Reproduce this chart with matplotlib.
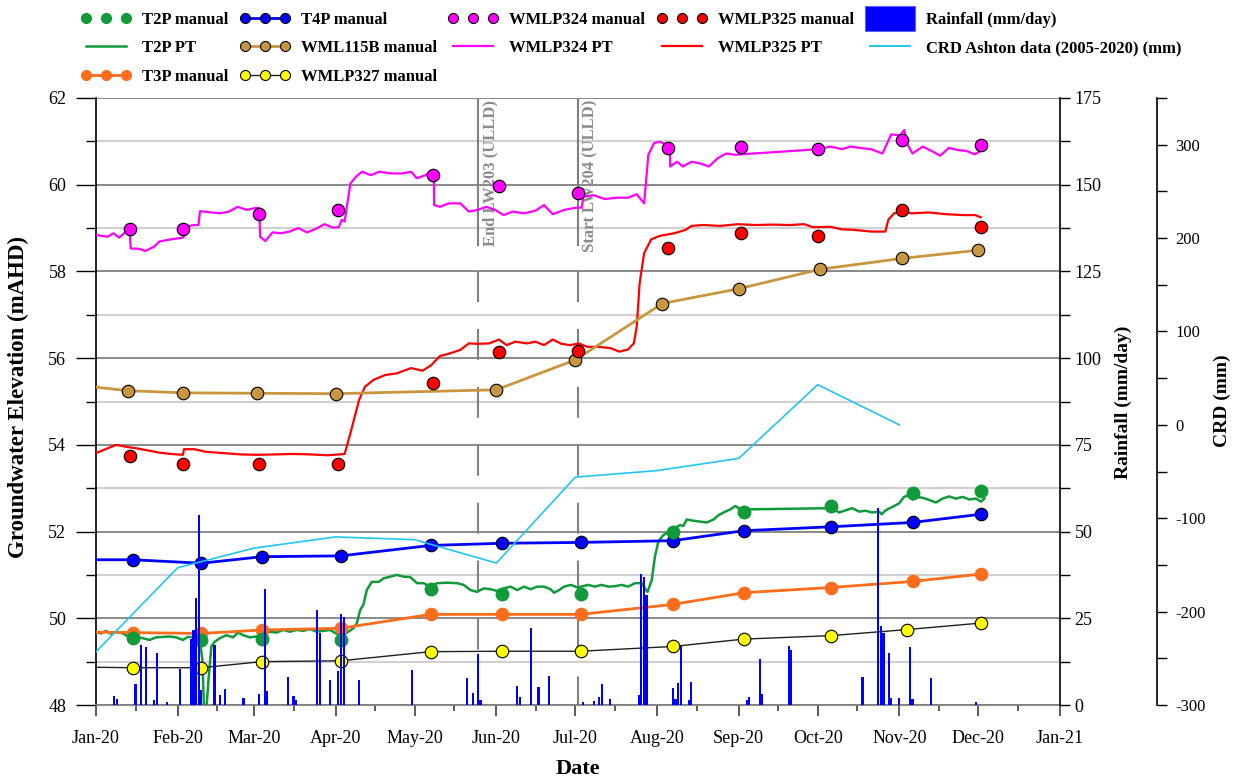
import numpy as np
import matplotlib
matplotlib.use("Agg")
import matplotlib.pyplot as plt
import matplotlib.dates as mdates
from matplotlib.ticker import MultipleLocator
from matplotlib.lines import Line2D
from matplotlib.patches import Patch, Rectangle
from matplotlib.legend_handler import HandlerPatch
from matplotlib import font_manager as fm

# ---------------------------------------------------------------- data
# Manual dip readings (mAHD)
grp_a_dates = ['2020-01-15', '2020-02-10', '2020-03-04', '2020-04-03', '2020-05-07', '2020-06-03',
               '2020-07-03', '2020-08-07', '2020-09-03', '2020-10-06', '2020-11-06', '2020-12-02']
grp_b_dates = ['2020-01-14', '2020-02-03', '2020-03-03', '2020-04-02', '2020-05-08', '2020-06-02',
               '2020-07-02', '2020-08-05', '2020-09-02', '2020-10-01', '2020-11-02', '2020-12-02']
wml115b_dates = ['2020-01-13', '2020-02-03', '2020-03-02', '2020-04-01', '2020-06-01', '2020-07-01',
                 '2020-08-03', '2020-09-01', '2020-10-02', '2020-11-02', '2020-12-01']
wmlp327_dates = ['2020-01-15', '2020-02-10', '2020-03-04', '2020-04-03', '2020-05-07', '2020-06-03',
                 '2020-07-03', '2020-08-07', '2020-09-03', '2020-10-06', '2020-11-04', '2020-12-02']
series_start = '2020-01-01'

t2p_manual = [49.54, 49.49, 49.52, 49.50, 50.68, 50.55, 50.56, 52.00, 52.45, 52.60, 52.88, 52.94]
t4p_manual = [51.35, 51.27, 51.42, 51.44, 51.68, 51.73, 51.75, 51.79, 52.02, 52.11, 52.21, 52.40]
t4p_start = 51.35
t3p_manual = [49.67, 49.65, 49.73, 49.77, 50.09, 50.09, 50.09, 50.32, 50.59, 50.71, 50.85, 51.02]
t3p_start = 49.68
wmlp327_manual = [48.86, 48.86, 49.00, 49.02, 49.23, 49.24, 49.24, 49.35, 49.52, 49.60, 49.74, 49.89]
wmlp327_start = 48.87
wml115b_manual = [55.25, 55.20, 55.19, 55.18, 55.27, 55.96, 57.26, 57.60, 58.05, 58.30, 58.49]
wml115b_start = 55.33
wmlp324_manual = [58.99, 58.99, 59.33, 59.42, 60.22, 59.96, 59.82, 60.85, 60.87, 60.82, 61.02, 60.92]
wmlp325_manual = [53.74, 53.55, 53.55, 53.55, 55.42, 56.14, 56.17, 58.53, 58.88, 58.82, 59.42, 59.03]

# Pressure transducer (PT) records: day of year (0 = 1 Jan 2020) and level (mAHD)
wmlp324_pt_day = [0, 4.4, 6.6, 8.8, 11.0, 12.8, 13.2, 16.5, 18.7, 22.0,
                  24.1, 27.4, 30.7, 33.2, 33.4, 37.3, 38.9, 39.5, 43.9, 47.2,
                  50.5, 53.8, 57.1, 60.4, 62.0, 62.3, 64.3, 67.0, 70.3, 73.5,
                  76.8, 80.1, 83.4, 86.7, 90.0, 92.2, 93.3, 94.4, 95.5, 96.6,
                  98.8, 101.0, 104.3, 107.6, 112.0, 116.4, 119.6, 121.8, 125.1, 127.3,
                  128.2, 128.4, 130.6, 133.9, 138.3, 141.6, 144.9, 148.2, 151.5, 154.8,
                  158.1, 162.5, 166.8, 170.1, 173.4, 177.8, 182.2, 184.4, 185.0, 188.8,
                  193.2, 197.6, 202.0, 205.3, 208.1, 209.7, 211.9, 214.0, 216.9, 217.8,
                  218.0, 220.6, 222.8, 226.1, 229.4, 232.7, 236.0, 239.3, 242.6, 244.8,
                  274.4, 278.8, 283.2, 286.5, 289.8, 294.2, 298.6, 301.9, 305.2, 306.9,
                  307.8, 310.0, 313.9, 317.2, 320.5, 323.8, 327.1, 330.4, 333.7, 335.9]
wmlp324_pt = [58.84, 58.80, 58.88, 58.78, 58.90, 58.90, 58.53, 58.52, 58.47, 58.57,
              58.69, 58.73, 58.76, 58.78, 59.03, 59.07, 59.07, 59.39, 59.36, 59.34,
              59.38, 59.49, 59.42, 59.46, 59.46, 58.80, 58.70, 58.90, 58.88, 58.92,
              59.00, 58.90, 58.98, 59.09, 59.01, 59.02, 59.19, 59.15, 59.60, 60.03,
              60.19, 60.30, 60.22, 60.30, 60.26, 60.26, 60.30, 60.15, 60.22, 60.31,
              60.31, 59.53, 59.49, 59.57, 59.57, 59.38, 59.42, 59.49, 59.42, 59.30,
              59.38, 59.34, 59.40, 59.53, 59.32, 59.42, 59.47, 59.47, 59.72, 59.76,
              59.67, 59.70, 59.70, 59.78, 59.57, 60.69, 60.96, 60.99, 60.92, 60.92,
              60.42, 60.53, 60.42, 60.53, 60.49, 60.42, 60.61, 60.72, 60.69, 60.70,
              60.82, 60.88, 60.82, 60.88, 60.85, 60.82, 60.72, 61.16, 61.14, 61.26,
              60.96, 60.72, 60.88, 60.78, 60.67, 60.85, 60.80, 60.78, 60.70, 60.78]

wmlp325_pt_day = [0, 4.4, 7.7, 11.0, 15.4, 19.8, 24.1, 28.5, 33.0, 33.4,
                  37.3, 41.7, 48.3, 54.9, 61.5, 68.1, 74.6, 81.2, 87.8, 94.4,
                  96.6, 99.9, 102.1, 105.4, 109.8, 114.2, 119.6, 124.0, 127.3, 130.6,
                  133.9, 138.3, 141.6, 144.9, 149.3, 153.0, 155.9, 159.2, 163.6, 166.8,
                  170.1, 173.4, 176.7, 180.0, 183.3, 186.6, 191.0, 195.4, 198.7, 202.0,
                  204.2, 205.3, 206.4, 208.1, 210.8, 214.0, 219.5, 223.9, 226.1, 230.5,
                  237.1, 243.7, 250.3, 256.9, 263.4, 268.9, 272.2, 278.8, 283.2, 287.6,
                  294.2, 299.7, 300.8, 303.0, 306.3, 309.6, 316.1, 322.7, 329.3, 333.7, 335.9]
wmlp325_pt = [53.81, 53.92, 54.00, 53.96, 53.92, 53.87, 53.82, 53.79, 53.77, 53.90,
              53.90, 53.84, 53.81, 53.78, 53.77, 53.78, 53.79, 53.78, 53.76, 53.79,
              54.27, 55.04, 55.34, 55.50, 55.61, 55.65, 55.77, 55.71, 55.84, 56.05,
              56.10, 56.19, 56.34, 56.33, 56.34, 56.43, 56.30, 56.38, 56.34, 56.38,
              56.30, 56.43, 56.33, 56.30, 56.34, 56.26, 56.26, 56.23, 56.15, 56.20,
              56.34, 56.73, 57.73, 58.42, 58.74, 58.82, 58.88, 58.96, 59.05, 59.07,
              59.05, 59.09, 59.07, 59.08, 59.07, 59.09, 59.02, 59.03, 58.97, 58.96,
              58.92, 58.92, 59.19, 59.34, 59.38, 59.34, 59.36, 59.32, 59.30, 59.30, 59.25]

t2p_pt_day = [0, 1.9, 3.8, 5.7, 7.6, 10.2, 12.7, 15.2, 17.8, 20.3,
              22.8, 25.4, 27.9, 30.5, 33.0, 34.9, 37.4, 39.4, 40.4, 41.0,
              41.9, 42.8, 43.8, 45.1, 47.0, 49.5, 52.0, 53.9, 55.9, 58.4,
              60.9, 63.5, 66.0, 68.5, 71.1, 73.6, 76.2, 78.7, 81.2, 83.8,
              86.3, 88.9, 91.4, 93.9, 95.8, 97.7, 99.0, 100.3, 101.5, 102.8,
              104.7, 107.3, 109.2, 111.7, 114.2, 116.8, 119.3, 121.9, 124.4, 126.9,
              129.5, 133.3, 137.1, 139.6, 142.2, 144.7, 147.2, 149.8, 152.3, 154.9,
              157.4, 159.9, 162.5, 165.0, 167.6, 170.1, 172.6, 173.9, 175.8, 177.7,
              180.3, 182.8,
              186.9, 189.4, 191.9, 194.5, 197.0, 199.5, 202.1, 204.6, 207.2, 208.4,
              209.4, 211.0, 212.2, 213.5, 215.4, 217.3, 219.8, 221.7, 223.0, 224.3,
              226.8, 229.4, 231.9, 234.5, 236.4, 238.9, 240.8, 242.7, 244.0, 245.2,
              279.5, 282.1, 284.6, 287.1, 289.7, 292.2, 294.7, 297.3, 298.3, 299.8,
              302.4, 304.9, 306.8, 308.7, 310.0, 311.2, 313.8, 316.3, 318.9, 321.4,
              323.9, 326.5, 329.0, 331.6, 334.1, 336.0, 337.3]
t2p_pt = [49.69, 49.65, 49.71, 49.64, 49.69, 49.65, 49.56, 49.57, 49.54, 49.50,
          49.56, 49.57, 49.58, 49.56, 49.50, 49.57, 49.56, 49.50, 49.04, 47.90,
          47.90, 48.65, 49.35, 49.46, 49.54, 49.61, 49.56, 49.67, 49.61, 49.56,
          49.58, 49.61, 49.69, 49.67, 49.73, 49.69, 49.73, 49.71, 49.75, 49.69,
          49.71, 49.73, 49.64, 49.61, 49.69, 49.77, 49.88, 50.19, 50.31, 50.65,
          50.84, 50.84, 50.92, 50.96, 51.00, 50.96, 50.95, 50.81, 50.81, 50.73,
          50.81, 50.82, 50.81, 50.77, 50.65, 50.61, 50.69, 50.67, 50.63, 50.69,
          50.73, 50.65, 50.73, 50.67, 50.73, 50.73, 50.67, 50.59, 50.65, 50.73,
          50.77, 50.71,
          50.77, 50.73, 50.77, 50.73, 50.74, 50.77, 50.73, 50.81, 50.81, 50.69,
          50.61, 50.88, 51.42, 51.77, 51.92, 51.98, 52.08, 52.15, 52.13, 52.28,
          52.25, 52.23, 52.21, 52.28, 52.38, 52.46, 52.51, 52.59, 52.54, 52.51,
          52.54, 52.44, 52.49, 52.54, 52.46, 52.48, 52.44, 52.46, 52.40, 52.49,
          52.57, 52.65, 52.80, 52.84, 52.74, 52.80, 52.78, 52.73, 52.67, 52.76,
          52.81, 52.76, 52.80, 52.74, 52.76, 52.69, 52.76]

# Daily rainfall (mm/day), day of year
rain_day = [7, 8, 15, 17, 19, 22, 23, 27, 32, 36,
            37, 38, 39, 40, 45, 47, 49, 56, 62, 64,
            65, 73, 75, 76, 84, 85, 89, 92, 93, 94,
            100, 120, 141, 143, 145, 146, 160, 161, 165, 168,
            172, 185, 189, 191, 192, 195, 206, 207, 208, 209,
            219, 220, 221, 222, 225, 226, 247, 248, 252, 253,
            263, 264, 291, 297, 298, 299, 301, 302, 305, 309,
            310, 317, 334]
rain_mm = [2.6, 1.8, 6.0, 17.3, 16.7, 1.4, 15.0, 0.8, 10.3, 18.9,
           21.6, 30.9, 54.8, 4.3, 17.3, 2.9, 4.5, 1.9, 3.2, 33.4,
           4.1, 8.1, 2.6, 1.4, 27.4, 20.8, 7.3, 9.9, 26.1, 25.5,
           7.3, 10.1, 7.9, 3.4, 14.7, 1.4, 5.5, 2.4, 22.3, 5.1,
           8.4, 1.0, 1.2, 2.3, 6.0, 1.7, 2.9, 37.8, 37.0, 31.7,
           4.9, 1.7, 6.4, 17.1, 1.4, 6.6, 1.3, 2.3, 13.3, 3.1,
           17.0, 15.9, 8.1, 56.7, 22.8, 20.8, 14.9, 2.1, 2.1, 16.8,
           1.7, 7.9, 0.8]

# Cumulative rainfall departure, Ashton (mm)
crd_dates = ['2020-01-01', '2020-02-01', '2020-03-01', '2020-04-01', '2020-05-01', '2020-06-01',
             '2020-07-01', '2020-08-01', '2020-09-01', '2020-10-01', '2020-11-01']
crd_mm = [-243, -153, -132, -120, -123, -148, -56, -49, -36, 43, 0]

# Mining events
event_dates = ['2020-05-25', '2020-07-02']
event_labels = ['End LW203 (ULLD)', 'Start LW204 (ULLD)']

# ---------------------------------------------------------------- helpers
BASE = mdates.date2num(np.datetime64('2020-01-01'))


def from_days(days):
    return BASE + np.asarray(days, dtype=float)


def from_dates(dates):
    return mdates.date2num(np.array(dates, dtype='datetime64[D]'))


def with_start(dates, values, start_value):
    return (np.concatenate([from_dates([series_start]), from_dates(dates)]),
            np.concatenate([[start_value], values]))


plt.rcParams['font.family'] = ['Liberation Serif', 'DejaVu Serif']
plt.rcParams['lines.scale_dashes'] = False
plt.rcParams['axes.unicode_minus'] = False

_font_names = {f.name for f in fm.fontManager.ttflist}
if 'Liberation Sans Narrow' in _font_names:
    LEG_SIZE = 13.0
    LEG_PROP = fm.FontProperties(family='Liberation Sans Narrow', weight='bold', size=LEG_SIZE)
else:
    LEG_SIZE = 12.0
    LEG_PROP = fm.FontProperties(family='Liberation Serif', weight='bold', size=LEG_SIZE)

GREEN = '#109A3A'
BLUE = '#0000FF'
ORANGE = '#FF6D1A'
TAN = '#C8963E'
MAGENTA = '#FF00FF'
RED = '#FF0000'
YELLOW = '#FFFF00'
CYAN = '#22C5F2'
GRID_DARK = '#808080'
GRID_LIGHT = '#D0D0D0'
EVENT_GREY = '#8A8A8A'

MS = 9

fig = plt.figure(figsize=(12.4, 7.82), dpi=100)
ax = fig.add_axes([96 / 1240, 1 - 705 / 782, 964 / 1240, 607 / 782])

# --- groundwater levels
x, y = with_start(grp_a_dates, t4p_manual, t4p_start)
ax.plot(x, y, color=BLUE, lw=2, marker='o', ms=MS, mfc=BLUE, mec='black', mew=0.8,
        markevery=list(range(1, len(x))), zorder=4)
x, y = with_start(grp_a_dates, t3p_manual, t3p_start)
ax.plot(x, y, color=ORANGE, lw=2, marker='o', ms=MS, mfc=ORANGE, mec=ORANGE, mew=0.8,
        markevery=list(range(1, len(x))), zorder=4)
x, y = with_start(wmlp327_dates, wmlp327_manual, wmlp327_start)
ax.plot(x, y, color='#202020', lw=1, marker='o', ms=MS, mfc=YELLOW, mec='black', mew=0.8,
        markevery=list(range(1, len(x))), zorder=4)
x, y = with_start(wml115b_dates, wml115b_manual, wml115b_start)
ax.plot(x, y, color=TAN, lw=2, marker='o', ms=MS, mfc=TAN, mec='black', mew=0.8,
        markevery=list(range(1, len(x))), zorder=4)

ax.plot(from_days(t2p_pt_day), t2p_pt, color=GREEN, lw=1.8, zorder=3)
ax.plot(from_days(wmlp324_pt_day), wmlp324_pt, color=MAGENTA, lw=1.6, zorder=3)
ax.plot(from_days(wmlp325_pt_day), wmlp325_pt, color=RED, lw=1.6, zorder=3)

ax.plot(from_dates(grp_a_dates), t2p_manual, ls='none', marker='o', ms=MS, mfc=GREEN, mec=GREEN, zorder=5)
ax.plot(from_dates(grp_b_dates), wmlp324_manual, ls='none', marker='o', ms=MS, mfc=MAGENTA, mec='black',
        mew=0.8, zorder=5)
ax.plot(from_dates(grp_b_dates), wmlp325_manual, ls='none', marker='o', ms=MS, mfc=RED, mec='black',
        mew=0.8, zorder=5)

# --- mining events: solid bar beside the label, dashed below it
for d, lab in zip(from_dates(event_dates), event_labels):
    ax.plot([d, d], [61.95, 58.6], color=GRID_DARK, lw=1.5, zorder=2)
    ax.plot([d, d], [58.0, 48.0], color=GRID_DARK, lw=1.5, dashes=(22.3, 19.4), zorder=2)
    ax.text(d + 1.6, 61.96, lab, rotation=90, ha='left', va='top', color=EVENT_GREY,
            fontsize=12, fontweight='bold', zorder=2)

ax.set_xlim(BASE, BASE + 366)
ax.set_ylim(48, 62)
ax.yaxis.set_major_locator(MultipleLocator(2))
ax.yaxis.set_minor_locator(MultipleLocator(1))
ax.xaxis.set_major_locator(mdates.MonthLocator())
ax.xaxis.set_minor_locator(mdates.MonthLocator(bymonthday=16))
ax.xaxis.set_major_formatter(mdates.DateFormatter('%b-%y'))
ax.grid(which='major', axis='y', color=GRID_DARK, lw=1.3)
ax.grid(which='minor', axis='y', color=GRID_LIGHT, lw=1.5)
ax.set_axisbelow(True)
ax.tick_params(axis='y', which='major', length=14.4, width=1, pad=7, labelsize=13)
ax.tick_params(axis='y', which='minor', length=7.2, width=1)
ax.tick_params(axis='x', which='major', length=8, width=1.2, pad=10, labelsize=13, color='#404040')
ax.tick_params(axis='x', which='minor', length=4.5, width=1.2, color='#404040')
for s in ('top', 'right'):
    ax.spines[s].set_visible(False)
ax.spines['bottom'].set_color(GRID_DARK)
ax.spines['bottom'].set_linewidth(1.3)
ax.spines['left'].set_linewidth(1.2)

# --- rainfall
ax_rain = ax.twinx()
ax_rain.bar(from_days(rain_day), rain_mm, width=0.8, color=BLUE, linewidth=0)
ax_rain.set_ylim(0, 175)
ax_rain.yaxis.set_major_locator(MultipleLocator(25))
ax_rain.yaxis.set_minor_locator(MultipleLocator(12.5))
ax_rain.tick_params(axis='y', which='both', length=7, width=1, pad=3.5, labelsize=13)
for s in ('top', 'left', 'bottom'):
    ax_rain.spines[s].set_visible(False)
ax_rain.spines['right'].set_linewidth(1.2)

# --- cumulative rainfall departure
ax_crd = ax.twinx()
ax_crd.plot(from_dates(crd_dates), crd_mm, color=CYAN, lw=1.2)
ax_crd.set_ylim(-300, 350)
ax_crd.yaxis.set_major_locator(MultipleLocator(100))
ax_crd.yaxis.set_minor_locator(MultipleLocator(50))
ax_crd.tick_params(axis='y', which='both', length=7, width=1, pad=6, labelsize=12)
ax_crd.spines['right'].set_position(('axes', (1157 - 96) / 964))
for s in ('top', 'left', 'bottom'):
    ax_crd.spines[s].set_visible(False)
ax_crd.spines['right'].set_linewidth(1.2)

# --- axis titles
fig.text(18 / 1240, 1 - 397 / 782, 'Groundwater Elevation (mAHD)', rotation=90, ha='center', va='center',
         fontsize=16.5, fontweight='bold')
fig.text(578 / 1240, 1 - 769 / 782, 'Date', ha='center', va='center', fontsize=16, fontweight='bold')
fig.text(1123 / 1240, 1 - 402 / 782, 'Rainfall (mm/day)', rotation=90, ha='center', va='center',
         fontsize=14, fontweight='bold')
fig.text(1222 / 1240, 1 - 401 / 782, 'CRD (mm)', rotation=90, ha='center', va='center',
         fontsize=14, fontweight='bold')


# --- legend
def tall_patch(legend, orig_handle, xdescent, ydescent, width, height, fontsize):
    extra = 18.0 - height
    return Rectangle((-xdescent, -ydescent - extra / 2), width, height + extra)


def marker_line(color, face, edge, line=True, lw=2):
    return Line2D([], [], color=color, lw=lw if line else 0, ls='-' if line else 'none',
                  marker='o', ms=7.2, mfc=face, mec=edge, mew=0.8)


handles = [
    marker_line(GREEN, GREEN, GREEN, line=False),
    Line2D([], [], color=GREEN, lw=1.8),
    marker_line(ORANGE, ORANGE, ORANGE),
    marker_line(BLUE, BLUE, 'black'),
    marker_line(TAN, TAN, 'black'),
    marker_line('#202020', YELLOW, 'black', lw=1),
    marker_line(MAGENTA, MAGENTA, 'black', line=False),
    Line2D([], [], color=MAGENTA, lw=1.6),
    marker_line(RED, RED, 'black', line=False),
    Line2D([], [], color=RED, lw=1.6),
    Patch(facecolor=BLUE, edgecolor='#6060FF', linewidth=0.8),
    Line2D([], [], color=CYAN, lw=1.4),
]
labels = ['T2P manual', 'T2P PT', 'T3P manual', 'T4P manual', 'WML115B manual', 'WMLP327 manual',
          'WMLP324 manual', 'WMLP324 PT', 'WMLP325 manual', 'WMLP325 PT',
          'Rainfall (mm/day)', 'CRD Ashton data (2005-2020) (mm)']

row_pitch_pt = 28.3 * 0.72
fig.legend(handles, labels, ncol=5, loc='upper left', bbox_to_anchor=(81 / 1240, 1 - 12 / 782),
           frameon=False, numpoints=3, prop=LEG_PROP,
           handlelength=36.0 / LEG_SIZE, handletextpad=7.9 / LEG_SIZE,
           columnspacing=8.2 / LEG_SIZE, labelspacing=(row_pitch_pt - 0.96 * LEG_SIZE) / LEG_SIZE,
           borderpad=0, borderaxespad=0,
           handler_map={Patch: HandlerPatch(patch_func=tall_patch)})

fig.savefig('out.png', dpi=100)
